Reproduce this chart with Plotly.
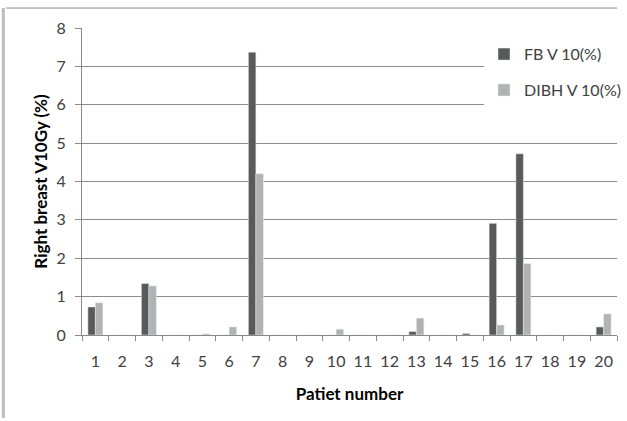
import plotly.graph_objects as go

patients = [str(i) for i in range(1, 21)]
fb_v10 = [0.73, 0, 1.34, 0, 0, 0, 7.37, 0, 0, 0, 0, 0, 0.09, 0, 0.04, 2.91, 4.72, 0, 0, 0.21]
dibh_v10 = [0.84, 0, 1.28, 0, 0.03, 0.21, 4.2, 0, 0, 0.15, 0, 0, 0.44, 0, 0, 0.26, 1.86, 0, 0, 0.55]
y_ticks = [0, 1, 2, 3, 4, 5, 6, 7, 8]

FONT = "Lato"

fig = go.Figure()
fig.add_trace(go.Bar(x=patients, y=fb_v10, name="FB V 10(%)", marker_color="#5a5a5a",
                     legendgroup="a"))
fig.add_trace(go.Bar(x=patients, y=dibh_v10, name="DIBH V 10(%)", marker_color="#b2b2b2",
                     legendgroup="b"))

fig.update_layout(
    width=627, height=421,
    margin=dict(l=82, r=0, t=28, b=86),
    paper_bgcolor="white", plot_bgcolor="white",
    barmode="group", bargap=0.44, bargroupgap=0,
    font=dict(family=FONT, color="#404040"),
    legend=dict(x=0.752, y=0.97, xanchor="left", yanchor="top",
                bgcolor="white", font=dict(size=16, color="#404040"),
                traceorder="grouped", tracegroupgap=12,
                itemwidth=30),
    xaxis=dict(
        type="category", tickson="boundaries", ticks="outside", ticklen=5,
        tickcolor="#888888", showline=True, linecolor="#888888",
        tickangle=0, ticklabelstandoff=12,
        tickfont=dict(size=16, color="#404040"),
        title=dict(text="<b>Patiet number</b>", font=dict(size=17, color="#000000"), standoff=18),
        showgrid=False,
    ),
    yaxis=dict(
        range=[0, 8], tickvals=y_ticks, ticks="outside", ticklen=6,
        tickcolor="#888888", showline=True, linecolor="#888888",
        gridcolor="#8c8c8c", gridwidth=1, zeroline=False,
        ticklabelstandoff=6,
        tickfont=dict(size=16, color="#404040"),
        title=dict(text="<b>Right breast V10Gy (%)</b>", font=dict(size=17, color="#000000"), standoff=4),
    ),
    showlegend=True,
)

# chart frame: top border and left grey edge
fig.add_shape(type="line", xref="paper", yref="paper", x0=-0.142, x1=1.0, y0=1.065, y1=1.065,
              line=dict(color="#8c8c8c", width=1))
fig.add_shape(type="line", xref="paper", yref="paper", x0=-0.147, x1=-0.147, y0=1.065, y1=-0.27,
              line=dict(color="#bdbdbd", width=3))

fig.write_html("out.html", config={"displayModeBar": False},
               post_script="document.body.style.margin='0';document.body.style.overflow='hidden';")
